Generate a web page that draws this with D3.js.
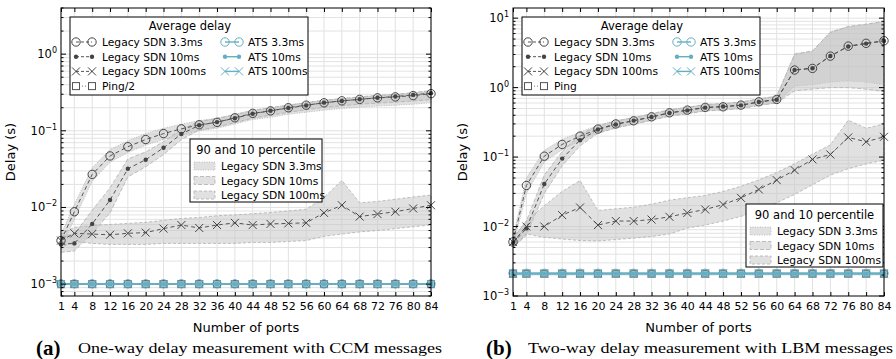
<!DOCTYPE html>
<html>
<head>
<meta charset="utf-8">
<title></title>
<style>
  body { margin: 0; background: #fff; }
  svg { display: block; font-family: "DejaVu Sans", sans-serif; }
  .grid line { stroke: #e2e2e2; stroke-width: 1; }
  .band { fill: #c4c4c4; fill-opacity: 0.5; stroke: #b0b0b0; stroke-width: 0.8; }
  .legacy { fill: none; stroke: #555; stroke-width: 1; stroke-dasharray: 4,3; }
  .ats { fill: none; stroke: #66aec3; stroke-width: 1.6; }
  .tick line { stroke: #000; }
</style>
</head>
<body>
<svg id="chart" width="896" height="359"></svg>
<script src="https://cdnjs.cloudflare.com/ajax/libs/d3/7.8.5/d3.min.js"></script>
<script>
// ports on the x axis
var ports = [1, 4, 8, 12, 16, 20, 24, 28, 32, 36, 40, 44, 48, 52, 56, 60, 64, 68, 72, 76, 80, 84];
var portTicks = ["1","4","8","12","16","20","24","28","32","36","40","44","48","52","56","60","64","68","72","76","80","84"];

// (a) one-way delay, CCM
var ccmLegacy33  = [0.0037,0.0088,0.027,0.047,0.062,0.077,0.092,0.106,0.12,0.129,0.148,0.169,0.182,0.2,0.216,0.232,0.246,0.257,0.269,0.277,0.288,0.305];
var ccmLegacy10  = [0.0033,0.0034,0.0061,0.0125,0.032,0.042,0.06,0.091,0.118,0.13,0.146,0.167,0.183,0.198,0.214,0.233,0.245,0.258,0.27,0.28,0.294,0.31];
var ccmLegacy100 = [0.0037,0.0046,0.0045,0.0044,0.0046,0.0047,0.0053,0.0059,0.0054,0.0059,0.0063,0.0059,0.0061,0.0062,0.0063,0.0085,0.0107,0.0076,0.0082,0.0088,0.0097,0.0107];
var ccmPing      = [0.001,0.001,0.001,0.001,0.001,0.001,0.001,0.001,0.001,0.001,0.001,0.001,0.001,0.001,0.001,0.001,0.001,0.001,0.001,0.001,0.001,0.001];
var ccmAts33     = [0.00101,0.00101,0.00101,0.00101,0.00101,0.00101,0.00101,0.00101,0.00101,0.00101,0.00101,0.00101,0.00101,0.00101,0.00101,0.00101,0.00101,0.00101,0.00101,0.00101,0.00101,0.00101];
var ccmAts10     = [0.001,0.001,0.001,0.001,0.001,0.001,0.001,0.001,0.001,0.001,0.001,0.001,0.001,0.001,0.001,0.001,0.001,0.001,0.001,0.001,0.001,0.001];
var ccmAts100    = [0.001,0.001,0.001,0.001,0.001,0.001,0.001,0.001,0.001,0.001,0.001,0.001,0.001,0.001,0.001,0.001,0.001,0.001,0.001,0.001,0.001,0.001];
var ccm33Hi  = [0.0045,0.011,0.033,0.057,0.074,0.092,0.108,0.122,0.136,0.146,0.165,0.186,0.2,0.218,0.234,0.25,0.264,0.276,0.288,0.296,0.31,0.33];
var ccm33Lo  = [0.003,0.007,0.022,0.039,0.052,0.065,0.077,0.088,0.1,0.108,0.123,0.14,0.15,0.164,0.175,0.186,0.195,0.203,0.21,0.215,0.222,0.232];
var ccm10Hi  = [0.0042,0.0045,0.0092,0.018,0.043,0.053,0.072,0.105,0.132,0.145,0.162,0.184,0.2,0.216,0.232,0.251,0.263,0.277,0.29,0.3,0.315,0.335];
var ccm10Lo  = [0.0026,0.0027,0.0046,0.0085,0.025,0.034,0.049,0.077,0.102,0.112,0.128,0.146,0.16,0.174,0.188,0.202,0.212,0.222,0.23,0.236,0.245,0.255];
var ccm100Hi = [0.0045,0.0055,0.0058,0.006,0.0062,0.0064,0.0068,0.0072,0.0074,0.0078,0.008,0.0083,0.0086,0.009,0.0095,0.0135,0.0225,0.0115,0.012,0.0128,0.0137,0.0145];
var ccm100Lo = [0.003,0.0036,0.0034,0.0033,0.0033,0.0033,0.0034,0.0034,0.0034,0.0034,0.0034,0.0035,0.0035,0.0036,0.0037,0.0042,0.0045,0.0048,0.005,0.0053,0.0056,0.0059];

// (b) two-way delay, LBM
var lbmLegacy33  = [0.006,0.039,0.103,0.152,0.2,0.253,0.3,0.333,0.38,0.434,0.474,0.519,0.53,0.56,0.625,0.676,1.79,1.89,2.84,3.96,4.34,4.73];
var lbmLegacy10  = [0.0058,0.0094,0.041,0.095,0.175,0.25,0.295,0.335,0.378,0.43,0.47,0.515,0.535,0.555,0.62,0.67,1.8,1.9,2.85,3.9,4.3,4.7];
var lbmLegacy100 = [0.006,0.01,0.01,0.0146,0.0188,0.0105,0.012,0.012,0.0126,0.0138,0.0157,0.0176,0.0207,0.0259,0.0342,0.0466,0.0649,0.0925,0.109,0.192,0.166,0.196];
var lbmPing      = [0.0021,0.0021,0.0021,0.0021,0.0021,0.0021,0.0021,0.0021,0.0021,0.0021,0.0021,0.0021,0.0021,0.0021,0.0021,0.0021,0.0021,0.0021,0.0021,0.0021,0.0021,0.0021];
var lbmAts33     = [0.00212,0.00212,0.00212,0.00212,0.00212,0.00212,0.00212,0.00212,0.00212,0.00212,0.00212,0.00212,0.00212,0.00212,0.00212,0.00212,0.00212,0.00212,0.00212,0.00212,0.00212,0.00212];
var lbmAts10     = [0.0021,0.0021,0.0021,0.0021,0.0021,0.0021,0.0021,0.0021,0.0021,0.0021,0.0021,0.0021,0.0021,0.0021,0.0021,0.0021,0.0021,0.0021,0.0021,0.0021,0.0021,0.0021];
var lbmAts100    = [0.0021,0.0021,0.0021,0.0021,0.0021,0.0021,0.0021,0.0021,0.0021,0.0021,0.0021,0.0021,0.0021,0.0021,0.0021,0.0021,0.0021,0.0021,0.0021,0.0021,0.0021,0.0021];
var lbm33Hi  = [0.007,0.05,0.125,0.18,0.23,0.285,0.335,0.37,0.42,0.48,0.52,0.57,0.59,0.62,0.69,0.75,3.1,3.3,6.4,7.5,8.1,8.9];
var lbm33Lo  = [0.0052,0.03,0.085,0.128,0.172,0.222,0.265,0.298,0.34,0.39,0.425,0.465,0.475,0.5,0.56,0.6,1.05,1.1,1.2,1.25,1.2,1.1];
var lbm10Hi  = [0.0068,0.012,0.055,0.12,0.21,0.285,0.33,0.37,0.42,0.48,0.52,0.57,0.59,0.62,0.69,0.75,3.0,3.4,6.2,7.6,8.2,9.0];
var lbm10Lo  = [0.005,0.0075,0.03,0.075,0.145,0.22,0.262,0.298,0.338,0.388,0.42,0.46,0.478,0.498,0.555,0.6,0.9,0.95,1.0,1.0,0.95,0.88];
var lbm100Hi = [0.0068,0.012,0.02,0.032,0.046,0.017,0.018,0.019,0.021,0.024,0.026,0.028,0.032,0.038,0.047,0.06,0.08,0.11,0.15,0.34,0.26,0.3];
var lbm100Lo = [0.0052,0.0078,0.007,0.0066,0.0063,0.0062,0.0065,0.0068,0.0072,0.0078,0.0095,0.0105,0.012,0.014,0.017,0.022,0.029,0.04,0.055,0.068,0.08,0.09];

var svg = d3.select("#chart");
var ATS = "#66aec3";

function zip(a){ return ports.map(function(p,i){ return [p, a[i]]; }); }

function marker(g, kind, x, y, color){
  if(kind == "circle"){
    g.append("circle").attr("cx",x).attr("cy",y).attr("r",4.2)
      .attr("fill","none").attr("stroke",color).attr("stroke-width",1);
  } else if(kind == "dot"){
    g.append("circle").attr("cx",x).attr("cy",y).attr("r",2.2).attr("fill",color);
  } else if(kind == "x"){
    g.append("path").attr("d","M"+(x-4)+","+(y-4)+"L"+(x+4)+","+(y+4)+"M"+(x-4)+","+(y+4)+"L"+(x+4)+","+(y-4))
      .attr("stroke",color).attr("stroke-width",1).attr("fill","none");
  } else if(kind == "square"){
    g.append("rect").attr("x",x-3.5).attr("y",y-3.5).attr("width",7).attr("height",7)
      .attr("fill",color || "#9cc3cd").attr("stroke","#555").attr("stroke-width",1);
  }
}

function supLabel(g, x, y, exp){
  var t = g.append("text").attr("x",x).attr("y",y).attr("text-anchor","end")
    .style("font-size","11.5px");
  t.append("tspan").text("10");
  t.append("tspan").attr("dy",-5).style("font-size","8px").text(exp);
}

function drawPanel(cfg){
  var x = d3.scaleLinear().domain([1,84]).range([cfg.x0, cfg.x1]);
  var y = d3.scaleLog().domain(cfg.yDomain).range([cfg.y1, cfg.y0]);
  var g = svg.append("g");

  // grid
  var grid = g.append("g").attr("class","grid");
  var yTicks = y.ticks().filter(function(v){ return y(v) > cfg.y0 + 0.5 && y(v) < cfg.y1 - 0.5; });
  grid.selectAll("line.h").data(yTicks).enter().append("line")
    .attr("x1",cfg.x0).attr("x2",cfg.x1).attr("y1",function(d){return y(d);}).attr("y2",function(d){return y(d);});
  grid.selectAll("line.v").data(ports).enter().append("line")
    .attr("y1",cfg.y0).attr("y2",cfg.y1).attr("x1",function(d){return x(d);}).attr("x2",function(d){return x(d);});

  // percentile bands
  var area = d3.area().x(function(d){return x(d[0]);}).y0(function(d){return y(d[1]);}).y1(function(d){return y(d[2]);});
  cfg.bands.forEach(function(b){
    var rows = ports.map(function(p,i){ return [p, b.lo[i], b.hi[i]]; });
    g.append("path").attr("class","band").attr("d",area(rows)).attr("stroke-dasharray",b.dash);
  });

  var line = d3.line().x(function(d){return x(d[0]);}).y(function(d){return y(d[1]);});

  // legacy series
  cfg.legacy.forEach(function(s){
    g.append("path").attr("class","legacy").attr("d",line(zip(s.data)));
  });
  cfg.legacy.forEach(function(s){
    zip(s.data).forEach(function(d){ marker(g, s.kind, x(d[0]), y(d[1]), "#444"); });
  });

  // ping + ATS
  g.append("path").attr("d",line(zip(cfg.ping))).attr("fill","none").attr("stroke","#777").attr("stroke-dasharray","1,2");
  zip(cfg.ping).forEach(function(d){ marker(g, "square", x(d[0]), y(d[1])); });
  cfg.ats.forEach(function(s){
    g.append("path").attr("class","ats").attr("d",line(zip(s.data)));
    zip(s.data).forEach(function(d){ marker(g, s.kind, x(d[0]), y(d[1]), ATS); });
  });

  // frame
  g.append("rect").attr("x",cfg.x0).attr("y",cfg.y0).attr("width",cfg.x1-cfg.x0).attr("height",cfg.y1-cfg.y0)
    .attr("fill","none").attr("stroke","#000").attr("stroke-width",1);

  // ticks (inward on all sides)
  var ax = d3.axisBottom(x).tickValues(ports).tickFormat(function(d,i){ return portTicks[i]; }).tickSize(-4).tickPadding(6);
  var axG = g.append("g").attr("transform","translate(0,"+cfg.y1+")").call(ax);
  axG.select(".domain").remove();
  axG.selectAll("text").style("font-size","11px").attr("fill","#000").style("font-family","DejaVu Sans");
  var axTop = g.append("g").attr("transform","translate(0,"+cfg.y0+")").call(d3.axisTop(x).tickValues(ports).tickSize(-4).tickFormat(""));
  axTop.select(".domain").remove();

  var allY = y.ticks().filter(function(v){ return y(v) >= cfg.y0 && y(v) <= cfg.y1 + 0.5; });
  allY.forEach(function(v){
    var e = Math.round(Math.log10(v));
    var major = Math.abs(Math.log10(v) - e) < 1e-6;
    var len = major ? 5 : 2.5;
    g.append("line").attr("x1",cfg.x0).attr("x2",cfg.x0+len).attr("y1",y(v)).attr("y2",y(v)).attr("stroke","#000");
    g.append("line").attr("x1",cfg.x1).attr("x2",cfg.x1-len).attr("y1",y(v)).attr("y2",y(v)).attr("stroke","#000");
    if(major) supLabel(g, cfg.x0 - 4, y(v) + 4, e < 0 ? "\u2212" + (-e) : String(e));
  });

  // axis titles
  g.append("text").attr("transform","translate("+(cfg.x0-46)+","+((cfg.y0+cfg.y1)/2)+") rotate(-90)")
    .attr("text-anchor","middle").style("font-size","13px").text("Delay (s)");
  g.append("text").attr("x",(cfg.x0+cfg.x1)/2).attr("y",332).attr("text-anchor","middle")
    .style("font-size","13px").text("Number of ports");

  // caption
  g.append("text").attr("x",cfg.capX).attr("y",355).style("font-family","Liberation Serif").style("font-weight","bold")
    .style("font-size","21px").text(cfg.capLetter);
  g.append("text").attr("x",cfg.capX+42).attr("y",353).style("font-family","Liberation Serif")
    .style("font-size","14px").attr("textLength",cfg.capLen).attr("lengthAdjust","spacingAndGlyphs").text(cfg.caption);

  // legend: average delay
  var L = cfg.leg1;
  var lg = g.append("g");
  lg.append("rect").attr("x",L.x).attr("y",L.y).attr("width",238).attr("height",78)
    .attr("fill","#fff").attr("stroke","#000").attr("stroke-width",1);
  lg.append("text").attr("x",L.x+120).attr("y",L.y+13).attr("text-anchor","middle").style("font-size","11.5px").text("Average delay");
  var rows1 = [
    {kind:"circle", name:"Legacy SDN 3.3ms"},
    {kind:"dot", name:"Legacy SDN 10ms"},
    {kind:"x", name:"Legacy SDN 100ms"},
    {kind:"square", name:cfg.pingName}
  ];
  rows1.forEach(function(r,i){
    var cy = L.y + 25 + i*14.7;
    lg.append("line").attr("x1",L.x+6).attr("x2",L.x+22).attr("y1",cy).attr("y2",cy)
      .attr("stroke", r.kind=="square" ? "#777" : "#555").attr("stroke-dasharray", r.kind=="square" ? "1,2" : "3,2");
    marker(lg, r.kind, L.x+6, cy, r.kind=="square" ? "#fff" : "#444");
    marker(lg, r.kind, L.x+22, cy, r.kind=="square" ? "#fff" : "#444");
    lg.append("text").attr("x",L.x+32).attr("y",cy+4).style("font-size","10.7px").text(r.name);
  });
  ["circle","dot","x"].forEach(function(k,i){
    var cy = L.y + 25 + i*14.7;
    lg.append("line").attr("x1",L.x+155).attr("x2",L.x+169).attr("y1",cy).attr("y2",cy).attr("stroke",ATS).attr("stroke-width",1.4);
    marker(lg, k, L.x+155, cy, ATS);
    marker(lg, k, L.x+169, cy, ATS);
    lg.append("text").attr("x",L.x+178).attr("y",cy+4).style("font-size","10.7px").text(["ATS 3.3ms","ATS 10ms","ATS 100ms"][i]);
  });

  // legend: percentiles
  var P = cfg.leg2;
  var pg = g.append("g");
  pg.append("rect").attr("x",P.x).attr("y",P.y).attr("width",P.w).attr("height",63)
    .attr("fill","#fff").attr("stroke","#000").attr("stroke-width",1);
  pg.append("text").attr("x",P.x+P.w/2).attr("y",P.y+15).attr("text-anchor","middle").style("font-size","11.5px").text("90 and 10 percentile");
  ["Legacy SDN 3.3ms","Legacy SDN 10ms","Legacy SDN 100ms"].forEach(function(n,i){
    var cy = P.y + 27 + i*14.5;
    pg.append("rect").attr("x",P.x+4).attr("y",cy-4).attr("width",21).attr("height",8).attr("class","band")
      .attr("stroke-dasharray", cfg.bands[i].dash);
    pg.append("text").attr("x",P.x+31).attr("y",cy+4).style("font-size","10.7px").text(n);
  });
}

drawPanel({
  x0:61, x1:431, y0:8, y1:296, yDomain:[7e-4, 4],
  legacy:[{data:ccmLegacy33,kind:"circle"},{data:ccmLegacy10,kind:"dot"},{data:ccmLegacy100,kind:"x"}],
  bands:[{lo:ccm33Lo,hi:ccm33Hi,dash:"1,1.5"},{lo:ccm10Lo,hi:ccm10Hi,dash:"4,2"},{lo:ccm100Lo,hi:ccm100Hi,dash:"3,2"}],
  ping:ccmPing, pingName:"Ping/2",
  ats:[{data:ccmAts33,kind:"circle"},{data:ccmAts10,kind:"dot"},{data:ccmAts100,kind:"x"}],
  leg1:{x:70,y:17}, leg2:{x:190,y:139,w:132},
  capX:36, capLetter:"(a)", caption:"One-way delay measurement with CCM messages", capLen:364
});

drawPanel({
  x0:513, x1:884, y0:8, y1:296, yDomain:[1e-3, 14],
  legacy:[{data:lbmLegacy33,kind:"circle"},{data:lbmLegacy10,kind:"dot"},{data:lbmLegacy100,kind:"x"}],
  bands:[{lo:lbm33Lo,hi:lbm33Hi,dash:"1,1.5"},{lo:lbm10Lo,hi:lbm10Hi,dash:"4,2"},{lo:lbm100Lo,hi:lbm100Hi,dash:"3,2"}],
  ping:lbmPing, pingName:"Ping",
  ats:[{data:lbmAts33,kind:"circle"},{data:lbmAts10,kind:"dot"},{data:lbmAts100,kind:"x"}],
  leg1:{x:522,y:17}, leg2:{x:746,y:204,w:137},
  capX:486, capLetter:"(b)", caption:"Two-way delay measurement with LBM messages", capLen:365
});
</script>
</body>
</html>
